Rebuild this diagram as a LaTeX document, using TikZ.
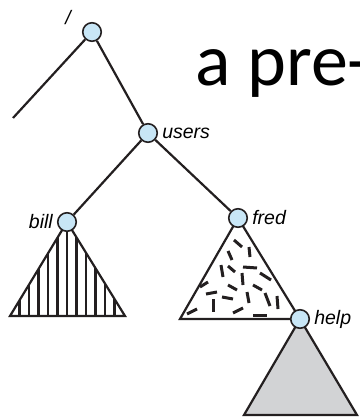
\documentclass[tikz,border=0pt]{standalone}
\usepackage{fontspec}
\setmainfont{Liberation Sans}
\newfontfamily\slidefont{Carlito}
\usetikzlibrary{positioning,backgrounds}
\definecolor{dirblue}{RGB}{200,230,246}
\definecolor{inkgray}{RGB}{35,31,32}
\definecolor{helpgray}{RGB}{210,211,213}
\tikzset{
    dir/.style={circle,draw=inkgray,fill=dirblue,line width=1.6pt,minimum size=18.5pt,inner sep=0pt},
    lbl/.style={font=\itshape\fontsize{19.5}{20}\selectfont,inner sep=1pt},
    edge/.style={draw=inkgray,line width=2.2pt},
    fleck/.style={draw=inkgray,line width=3pt}
}

\begin{document}
\begin{tikzpicture}[x=1pt,y=-1pt]
    \useasboundingbox (0,0) rectangle (359,419);
    \node[anchor=base west,inner sep=0pt,font=\slidefont\fontsize{74}{80}\selectfont] (title) at (195,86) {a pre-};
    \node[dir] (root) at (92,32) {};
    \node[dir] (users) at (148,133) {};
    \node[dir] (bill) at (67,222) {};
    \node[dir] (fred) at (238,218) {};
    \node[dir] (help) at (300,319) {};
    \coordinate (rootleft) at (13,118);
    \node[lbl] (root-lbl) at (68,18) {/};
    \node[lbl,right=3pt of users] (users-lbl) {users};
    \node[lbl,left=3pt of bill] (bill-lbl) {bill};
    \node[lbl,right=3pt of fred] (fred-lbl) {fred};
    \node[lbl,right=3pt of help] (help-lbl) {help};
    \draw[edge] (root) -- (rootleft);
    \draw[edge] (root) -- (users);
    \draw[edge] (users) -- (bill);
    \draw[edge] (users) -- (fred);
    \begin{scope}[on background layer]
        \begin{scope}
            \clip (bill.center) -- ++(-57,94) -- ++(115,0) -- cycle;
            \foreach \k in {-5,...,5}
                \draw[edge] ([xshift=\k*9.5pt]bill.center) -- ++(0,110);
        \end{scope}
        \draw[edge,line join=miter] (bill.center) -- ++(-57,94) -- ++(115,0) -- cycle;
        \begin{scope}
            \clip (fred.center) -- (180,319) -- (help.center) -- cycle;
            \foreach \a/\b/\c/\d in {234/240/242/247, 228/251/232/260, 249/247/250/257,
                221/265/223/277, 228/266/235/272, 243/267/257/268, 242/273/243/285,
                260/273/271/280, 200/287/208/282, 206/294/217/292, 228/285/237/290,
                213/299/213/312, 222/297/233/299, 247/292/249/303, 253/285/262/290,
                265/293/270/306, 277/296/278/309, 187/314/197/309, 233/313/243/308,
                253/315/267/315}
                \draw[fleck] (\a,\b) -- (\c,\d);
        \end{scope}
        \draw[edge,line join=miter] (fred.center) -- (180,319) -- (help.center) -- cycle;
        \draw[edge,fill=helpgray,line join=miter] (help.center) -- ++(-56,96) -- ++(113,0) -- cycle;
    \end{scope}
\end{tikzpicture}
\end{document}
